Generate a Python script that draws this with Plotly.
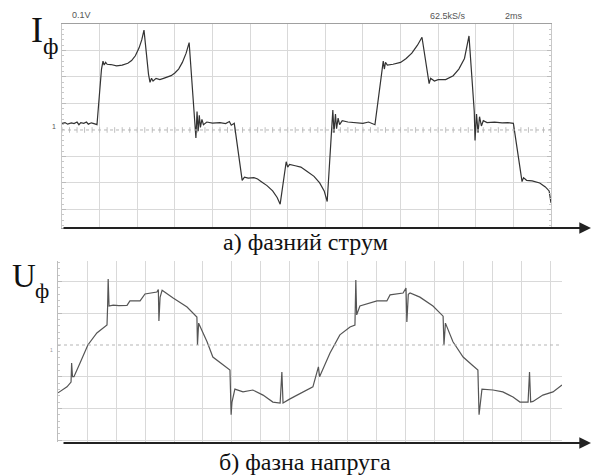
import plotly.graph_objects as go
import numpy as np

# ---------- data (time in divisions, amplitude in divisions) ----------
cur_t = [0.0, 0.08, 0.15, 0.25, 0.32, 0.4, 0.45, 0.5, 0.58, 0.65, 0.7, 0.78, 0.85, 0.93,
         1.05, 1.09, 1.12, 1.16, 1.2, 1.3, 1.45, 1.6, 1.75, 1.85, 1.95, 2.05, 2.12, 2.18,
         2.3, 2.34, 2.38, 2.42, 2.5, 2.6, 2.7, 2.8, 2.9, 3.0, 3.1, 3.2, 3.3, 3.38,
         3.5, 3.53, 3.56, 3.59, 3.62, 3.65, 3.68, 3.72, 3.76, 3.85, 4.0, 4.2, 4.35, 4.45, 4.5, 4.58,
         4.79, 4.85, 4.95, 5.1, 5.2, 5.3, 5.45, 5.6, 5.72, 5.8,
         5.96, 6.0, 6.05, 6.2, 6.35, 6.5, 6.7, 6.85, 6.97, 7.05,
         7.2, 7.23, 7.27, 7.3, 7.34, 7.38, 7.45, 7.6, 7.8, 8.0, 8.15, 8.32,
         8.54, 8.57, 8.6, 8.65, 8.8, 9.0, 9.15, 9.3, 9.45, 9.57,
         9.76, 9.8, 9.9, 10.0, 10.2, 10.4, 10.55, 10.7, 10.82,
         10.96, 10.98, 11.02, 11.06, 11.1, 11.15, 11.2, 11.3, 11.5, 11.7, 11.85, 12.0,
         12.23, 12.27, 12.35, 12.5, 12.7, 12.85, 12.95, 13.0]
cur_v = [0.25, 0.28, 0.22, 0.27, 0.24, 0.3, 0.2, 0.28, 0.25, 0.3, 0.22, 0.27, 0.24, 0.2,
         2.3, 2.6, 2.45, 2.55, 2.48, 2.47, 2.42, 2.45, 2.52, 2.62, 2.8, 3.1, 3.4, 3.77,
         2.1, 1.8, 1.95, 1.85, 1.95, 1.9, 1.95, 2.0, 2.05, 2.15, 2.3, 2.55, 2.9, 3.3,
         0.8, 0.0, -0.3, 0.7, -0.05, 0.55, 0.1, 0.4, 0.2, 0.3, 0.26, 0.28, 0.24, 0.32, 0.18, 0.25,
         -1.9, -1.78, -1.82, -1.8, -1.85, -1.95, -2.1, -2.3, -2.55, -2.8,
         -1.2, -1.4, -1.3, -1.35, -1.4, -1.55, -1.75, -2.0, -2.3, -2.7,
         0.75, -0.1, 0.6, 0.05, 0.45, 0.2, 0.35, 0.3, 0.27, 0.25, 0.3, 0.2,
         2.6, 2.3, 2.55, 2.45, 2.48, 2.55, 2.7, 2.9, 3.2, 3.5,
         1.75, 1.95, 1.85, 1.9, 1.9, 2.05, 2.3, 2.7, 3.55,
         0.7, -0.4, 0.6, -0.1, 0.5, 0.15, 0.35, 0.28, 0.3, 0.27, 0.28, 0.25,
         -1.95, -1.8, -1.9, -1.92, -2.0, -2.15, -2.3, -2.75]

volt_t = [0.0, 0.31, 0.45, 0.47, 0.5, 0.55, 0.76, 1.03, 1.34, 1.69, 1.71, 1.73, 1.76, 1.9, 2.1,
          2.38, 2.48, 2.83, 3.0, 3.41, 3.46, 3.48, 3.52, 3.59, 3.97, 4.45, 4.79, 4.81, 4.85,
          5.14, 5.34, 5.69, 5.93, 5.97, 6.0, 6.1, 6.38, 6.72, 7.07, 7.41, 7.66, 7.72, 7.76,
          8.0, 8.34, 8.79, 8.98, 9.02, 9.38, 9.72, 10.07, 10.24, 10.27, 10.3, 10.41, 10.76,
          11.0, 11.34, 11.45, 11.9, 12.0, 12.03, 12.08, 12.14, 12.48, 12.93, 13.28, 13.31,
          13.36, 13.62, 13.97, 14.28, 14.48, 14.52, 14.56, 14.62, 15.0, 15.34, 15.69, 15.93,
          16.21, 16.26, 16.3, 16.38, 16.72, 17.07, 17.38]
volt_v = [-1.51, -1.32, -1.17, -0.57, -1.0, -1.0, -0.57, 0.0, 0.38, 0.63, 1.2, 2.08, 1.23, 1.26, 1.24,
          1.25, 1.39, 1.39, 1.61, 1.67, 1.75, 0.76, 1.5, 1.73, 1.48, 1.2, 0.88, 0.0, 0.69,
          0.1, -0.38, -0.63, -0.79, -2.2, -1.8, -1.39, -1.48, -1.42, -1.58, -1.8, -1.83, -0.85, -1.83,
          -1.7, -1.53, -1.32, -0.69, -1.0, -0.25, 0.32, 0.57, 0.63, 2.05, 0.95, 1.23, 1.32,
          1.39, 1.39, 1.58, 1.64, 1.8, 0.73, 1.6, 1.64, 1.51, 1.23, 0.91, 0.0,
          0.69, 0.1, -0.38, -0.63, -0.79, -2.2, -1.8, -1.39, -1.42, -1.48, -1.64, -1.8,
          -1.8, -0.85, -1.8, -1.78, -1.58, -1.48, -1.26]

W, H = 592, 475
def px(x): return x / W
def py(y): return 1 - y / H

GRID = "#d9d9d9"
fig = go.Figure()

# center tick decoration on the top panel
tk = np.arange(0, 13.001, 0.2)
fig.add_trace(go.Scatter(x=tk, y=np.zeros_like(tk), mode="markers", xaxis="x", yaxis="y",
                         marker=dict(symbol="line-ns-open", size=4, color="#c0c0c0",
                                     line=dict(color="#c0c0c0", width=1)),
                         hoverinfo="skip", showlegend=False))
fig.add_trace(go.Scatter(x=cur_t, y=cur_v, mode="lines", xaxis="x", yaxis="y",
                         line=dict(color="#333333", width=1.2), showlegend=False))
fig.add_trace(go.Scatter(x=volt_t, y=volt_v, mode="lines", xaxis="x2", yaxis="y2",
                         line=dict(color="#555555", width=1.2), showlegend=False))

fig.update_layout(
    width=W, height=H, margin=dict(l=0, r=0, t=0, b=0),
    paper_bgcolor="white", plot_bgcolor="white",
    xaxis=dict(domain=[px(62), px(551)], range=[0, 13], tickmode="linear", tick0=0, dtick=1,
               showgrid=True, gridcolor=GRID, gridwidth=1, zeroline=False,
               showticklabels=False, ticks="", showline=True, linecolor="#a0a0a0", mirror=True),
    yaxis=dict(domain=[py(228), py(24)], range=[-3.7, 4.0], tickmode="array",
               tickvals=[-3, -2, -1, 1, 2, 3], showgrid=True, gridcolor=GRID, zeroline=False,
               showticklabels=False, ticks="inside", ticklen=4, tickcolor="#bbbbbb",
               showline=True, linecolor="#c8c8c8", mirror="allticks",
               minor=dict(tickmode="linear", tick0=0, dtick=0.2, ticks="inside", ticklen=2,
                          tickcolor="#c8c8c8", showgrid=False)),
    xaxis2=dict(domain=[px(58), px(562)], range=[0, 17.38], tickmode="linear", tick0=0, dtick=1,
                showgrid=True, gridcolor=GRID, zeroline=False, showticklabels=False, ticks="",
                showline=False, anchor="y2"),
    yaxis2=dict(domain=[py(442), py(261)], range=[-3.06, 2.65], tickmode="array",
                tickvals=[-3, -2, -1, 1, 2], showgrid=True, gridcolor=GRID, zeroline=False,
                showticklabels=False, ticks="inside", ticklen=4, tickcolor="#bbbbbb",
                showline=True, linecolor="#bdbdbd", anchor="x2",
                minor=dict(tickmode="linear", tick0=0, dtick=0.2, ticks="inside", ticklen=2,
                           tickcolor="#c8c8c8", showgrid=False)),
)

shapes = [
    dict(type="line", xref="x", yref="y", x0=0, x1=13, y0=0, y1=0,
         line=dict(color="#b5b5b5", width=1, dash="dot")),
    dict(type="line", xref="x2", yref="y2", x0=0, x1=17.38, y0=0, y1=0,
         line=dict(color="#b5b5b5", width=1, dash="dot")),
]
fig.update_layout(shapes=shapes)

serif = "Liberation Serif"
sans = "Liberation Sans"
ann = []
# axis arrows
for yy in (228, 443):
    ann.append(dict(xref="paper", yref="paper", x=px(591), y=py(yy), ax=-529, ay=0,
                    showarrow=True, arrowhead=2, arrowsize=1.3, arrowwidth=1.8,
                    arrowcolor="#222222", text=""))
# labels
ann += [
    dict(xref="paper", yref="paper", x=px(37), y=py(30), text="I", showarrow=False,
         font=dict(family=serif, size=36, color="#111"), xanchor="center", yanchor="middle"),
    dict(xref="paper", yref="paper", x=px(51), y=py(46), text="ф", showarrow=False,
         font=dict(family=serif, size=24, color="#111"), xanchor="center", yanchor="middle"),
    dict(xref="paper", yref="paper", x=px(24), y=py(276), text="U", showarrow=False,
         font=dict(family=serif, size=33, color="#111"), xanchor="center", yanchor="middle"),
    dict(xref="paper", yref="paper", x=px(42), y=py(290), text="ф", showarrow=False,
         font=dict(family=serif, size=22, color="#111"), xanchor="center", yanchor="middle"),
    dict(xref="paper", yref="paper", x=px(305), y=py(242), text="а) фазний струм", showarrow=False,
         font=dict(family=serif, size=24, color="#111"), xanchor="center", yanchor="middle"),
    dict(xref="paper", yref="paper", x=px(305), y=py(462), text="б) фазна напруга", showarrow=False,
         font=dict(family=serif, size=24, color="#111"), xanchor="center", yanchor="middle"),
    dict(xref="paper", yref="paper", x=px(70), y=py(15), text="0.1V", showarrow=False,
         font=dict(family=sans, size=9, color="#555"), xanchor="left", yanchor="middle"),
    dict(xref="paper", yref="paper", x=px(448), y=py(16), text="62.5kS/s", showarrow=False,
         font=dict(family=sans, size=9, color="#555"), xanchor="center", yanchor="middle"),
    dict(xref="paper", yref="paper", x=px(514), y=py(16), text="2ms", showarrow=False,
         font=dict(family=sans, size=9, color="#555"), xanchor="center", yanchor="middle"),
    dict(xref="paper", yref="paper", x=px(58), y=py(126), text="1", showarrow=False,
         font=dict(family=sans, size=7, color="#555"), xanchor="right", yanchor="middle"),
    dict(xref="paper", yref="paper", x=px(55), y=py(350), text="1", showarrow=False,
         font=dict(family=sans, size=5, color="#999"), xanchor="right", yanchor="middle"),
]
fig.update_layout(annotations=ann)

fig.write_html("out.html", config={"displayModeBar": False},
               post_script="document.body.style.margin='0px';")
